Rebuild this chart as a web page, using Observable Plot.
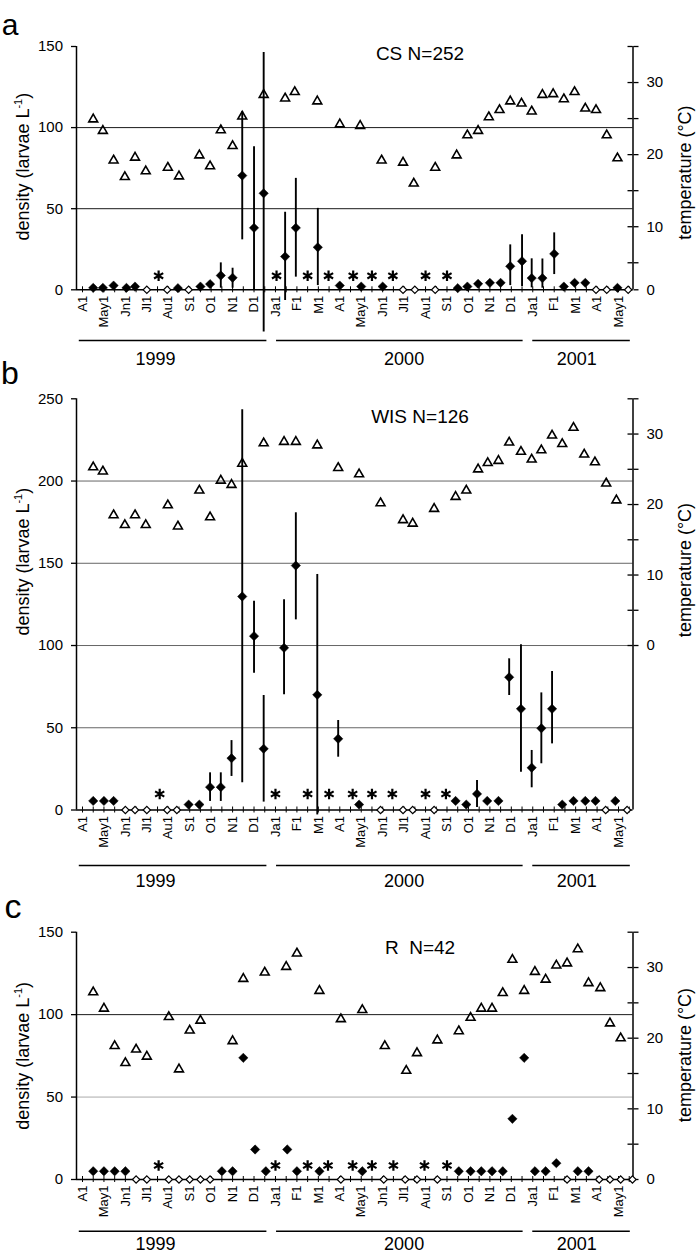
<!DOCTYPE html>
<html><head><meta charset="utf-8">
<script src="https://cdn.jsdelivr.net/npm/d3@7"></script>
<script src="https://cdn.jsdelivr.net/npm/@observablehq/plot@0.6"></script>
<style>
html,body{margin:0;padding:0;background:#fff;}
#chart{position:relative;width:697px;height:1253px;overflow:hidden;background:#fff;}
#chart svg{position:absolute;left:0;overflow:visible;}
</style></head><body><div id="chart"></div>
<script>
// x positions are in half-month steps from 1 April 1999 (0) to 1 May 2001 (50)
const xTickLabels = ["A1","May1","Jn1","Jl1","Au1","S1","O1","N1","D1","Ja1","F1","M1","A1","May1","Jn1","Jl1","Au1","S1","O1","N1","D1","Ja1","F1","M1","A1","May1"];
const yearLabels = ["1999","2000","2001"];
const yearStart = [-0.3, 18.1, 42.0];
const yearEnd = [17.2, 41.1, 51.1];
const yearMid = [6.8, 30.0, 46.1];

// Panel a: CS N=252
const csX = [1,1.9,2.9,4.1,4.9,6,7.9,8.9,9.9,11,11.9,12.9,14,14.9,16,16.9,18.9,19.9,21.95,24,26,28,29.9,31,32.9,35,35.9,36.9,38,39,39.9,41,41.9,42.9,44,44.9,45.9,46.9,47.9,48.9,49.9,50.9];
const csDensity = [1.2,1.2,2.6,1.2,2,0,0,1,0,2,3.5,8.8,7.4,70.4,38.2,59.5,20.5,38.2,26.2,2.6,2,2,0,0,0,1,2,3.7,4.3,4.3,14.5,17.6,7.2,7.2,22.2,2,4.3,4.3,0,0,1.2,0];
const csBarX = [12.9,14,14.9,16,16.9,18.9,19.9,21.95,39.9,41,41.9,42.9,44];
const csBarLow = [1,1,30.8,0,-26,-6.6,7.8,2.6,2.6,2,1.2,1,9.4];
const csBarHigh = [16.6,13.3,109.8,88.2,146.3,47.8,68.7,50.2,27.7,34,19.1,19,35.1];
const csTempX = [1.0,1.9,2.9,3.95,4.9,5.9,7.96,9.0,10.9,11.9,12.9,14.0,14.9,16.9,18.9,19.8,21.9,24.0,25.9,27.9,29.9,30.9,32.9,34.9,35.9,36.9,37.9,38.9,39.9,40.95,41.9,42.9,43.9,44.9,45.9,46.9,47.9,48.9,49.9];
const csTemp = [24.9,23.3,19.2,16.9,19.6,17.7,18.2,17.0,19.9,18.4,23.4,21.2,25.3,28.3,27.8,28.7,27.4,24.2,24.0,19.2,18.9,16.0,18.2,19.9,22.7,23.3,25.2,26.2,27.4,27.1,26.0,28.3,28.4,27.7,28.7,26.4,26.2,22.7,19.5];
const csNoSample = [7.1,18.1,21.0,22.95,25.25,27.0,28.95,32.0,34.0];

// Panel b: WIS N=126
const wisX = [1,2,2.9,4,4.9,6,7.9,8.8,9.9,10.9,11.9,12.9,13.9,14.9,16,16.9,18.8,19.9,21.9,23.85,25.8,27.8,29.9,30.8,32.8,34.8,35.8,36.8,37.75,38.8,39.8,40.9,41.9,42.8,43.8,44.75,45.8,46.9,47.85,48.8,49.7,50.8];
const wisDensity = [5.5,5.5,5.5,0,0,0,0,0,3.3,3.3,13.9,13.9,31.5,129.8,105.7,37.2,98.6,148.6,70,43.3,3.3,0,0,0,0,5.5,3.3,9.8,5.5,5.5,80.7,61.5,25.7,49.7,61.5,3.3,5.5,5.5,5.5,0,5.5,0];
const wisBarX = [11.9,12.9,13.9,14.9,16,16.9,18.8,19.9,21.9,23.85,36.8,39.8,40.9,41.9,42.8,43.8];
const wisBarLow = [5.2,5.2,20.4,16.5,83.2,4.8,70,115.6,-3,32.1,1.5,69.6,23,13.5,28.1,40.2];
const wisBarHigh = [22.6,22.6,42.2,243.3,126.9,69.6,127.8,180.7,143.2,54.4,17.9,91.9,100.4,36.2,71.2,84.2];
const wisTempX = [1.0,1.9,2.9,3.95,4.9,5.9,7.96,8.9,10.9,11.9,12.9,13.9,14.9,16.9,18.8,19.9,21.9,23.85,25.8,27.8,29.9,30.8,32.8,34.8,35.8,36.9,37.8,38.8,39.8,40.9,41.9,42.8,43.8,44.75,45.8,46.8,47.8,48.85,49.8];
const wisTemp = [25.3,24.7,18.5,17.1,18.5,17.1,19.9,16.9,22.0,18.2,23.4,22.8,25.8,28.7,28.9,28.9,28.4,25.2,24.3,20.2,17.8,17.3,19.4,21.1,22.0,25.0,25.9,26.2,28.8,27.5,26.4,27.7,29.8,28.6,30.9,27.1,26.0,23.0,20.6];
const wisNoSample = [7.2,18.0,21.0,23.0,25.2,27.0,28.9,32.0,33.9];

// Panel c: R N=42
const rX = [1,2,3,4,5,6,8.05,9,10,11,11.9,13,14,15,16.1,17.1,19.1,20,22.1,24.1,26.1,28.1,30.1,31.2,33.1,35.1,36.2,37.2,38.2,39.2,40.1,41.2,42.2,43.2,44.2,45.2,46.2,47.2,48.2,49.2,50.2,51.3];
const rDensity = [5,5,5,5,0,0,0,0,0,0,0,5,5,73.8,18.2,5,18.2,5,5,0,5,0,0,0,0,5,5,5,5,5,36.8,73.8,5,5,9.9,0,5,5,0,0,0,0];
const rBarX = [];
const rBarLow = [];
const rBarHigh = [];
const rTempX = [1,2,3,4,5,6,8.05,9,10,11,14,15,17,19,20,22.1,24.1,26.1,28.2,30.2,31.2,33.1,35.1,36.2,37.2,38.2,39.2,40.1,41.2,42.2,43.2,44.2,45.2,46.2,47.2,48.3,49.2,50.2];
const rTemp = [26.5,24.2,18.9,16.5,18.4,17.4,23.0,15.6,21.1,22.5,19.6,28.4,29.3,30.1,32.0,26.7,22.7,24.0,18.9,15.4,17.9,19.7,21.0,22.9,24.2,24.2,26.4,31.1,26.7,29.4,28.3,30.3,30.6,32.6,27.8,27.1,22.1,20.0];
const rNoSample = [7.1,18.0,21.0,22.9,25.2,27.0,29.0,31.9,34.0];

const FONT = "'Liberation Sans', Arial, Helvetica, sans-serif";
const W = 697, ML = 76, MR = 64.5;
const X_DOMAIN = [-0.56, 51.35];

const panels = [
  {letter: "a", site: "CS N=252", top: 0, height: 372, mt: 46, mb: 82.7, yMax: 150, yTicks: [0,50,100,150],
   gridDark: [50,100], gridLight: [], lightColor: "#666",
   x: csX, density: csDensity, barX: csBarX, barLow: csBarLow, barHigh: csBarHigh,
   tempX: csTempX, temp: csTemp, noSample: csNoSample,
   toDensity: t => (t - 1.25) * 150 / 33.75,
   tempTicks: [1.25,5,10,15,20,25,30,35], tempTickLabels: ["0","","10","","20","","30",""],
   letterX: 10, letterY: 35, letterSize: 30, siteY: 60, leftTitleY: 166.7, rightTitleY: 172.5,
   starDy: -14, yearRuleDy: 50.7, yearTextDy: 69.6},
  {letter: "b", site: "WIS N=126", top: 372, height: 521, mt: 26.3, mb: 83.5, yMax: 250, yTicks: [0,50,100,150,200,250],
   gridDark: [], gridLight: [50,100,150,200], lightColor: "#666",
   x: wisX, density: wisDensity, barX: wisBarX, barLow: wisBarLow, barHigh: wisBarHigh,
   tempX: wisTempX, temp: wisTemp, noSample: wisNoSample,
   toDensity: t => 100 + t * 150 / 35,
   tempTicks: [0,5,10,15,20,25,30,35], tempTickLabels: ["0","","10","","20","","30",""],
   letterX: 10, letterY: 12, letterSize: 32, siteY: 51, leftTitleY: 189.7, rightTitleY: 198,
   starDy: -16, yearRuleDy: 55.5, yearTextDy: 71.4},
  {letter: "c", site: "R  N=42", top: 893, height: 360, mt: 38.7, mb: 74, yMax: 150, yTicks: [0,50,100,150],
   gridDark: [100], gridLight: [50], lightColor: "#aaa",
   x: rX, density: rDensity, barX: rBarX, barLow: rBarLow, barHigh: rBarHigh,
   tempX: rTempX, temp: rTemp, noSample: rNoSample,
   toDensity: t => t * 150 / 35,
   tempTicks: [0,5,10,15,20,25,30,35], tempTickLabels: ["0","","10","","20","","30",""],
   letterX: 13, letterY: 25, letterSize: 34, siteY: 61, leftTitleY: 162.8, rightTitleY: 162,
   starDy: -14, yearRuleDy: 51.7, yearTextDy: 64.3}
];

const years = yearLabels.map((label, i) => ({label, start: yearStart[i], end: yearEnd[i], mid: yearMid[i]}));
const root = document.getElementById("chart");

for (const p of panels) {
  const pts = p.x.map((x, i) => ({x, y: p.density[i]}));
  const filled = pts.filter(d => d.y > 0);
  const open = pts.filter(d => d.y === 0);
  const bars = p.barX.map((x, i) => ({x, lo: p.barLow[i], hi: p.barHigh[i]}));
  const temps = p.tempX.map((x, i) => ({x, y: p.toDensity(p.temp[i])}));
  const tTickD = p.tempTicks.map(p.toDensity);
  const tLabel = new Map(tTickD.map((d, i) => [d, p.tempTickLabels[i]]));
  const plotH = p.height - p.mt - p.mb;
  const plotW = W - ML - MR;

  const svg = Plot.plot({
    width: W, height: p.height,
    marginTop: p.mt, marginBottom: p.mb, marginLeft: ML, marginRight: MR,
    style: {fontFamily: FONT, fontSize: "15px", background: "transparent", overflow: "visible", color: "black"},
    x: {domain: X_DOMAIN, axis: null},
    y: {domain: [0, p.yMax], axis: null},
    marks: [
      Plot.ruleY(p.gridDark, {y: d => d, stroke: "#1a1a1a", strokeWidth: 1}),
      Plot.ruleY(p.gridLight, {y: d => d, stroke: p.lightColor, strokeWidth: 1}),
      Plot.ruleY([0], {y: d => d, stroke: "black", strokeWidth: 1.5}),
      Plot.ruleX([X_DOMAIN[0]], {x: d => d, stroke: "black", strokeWidth: 1.5}),
      Plot.ruleX([X_DOMAIN[1]], {x: d => d, stroke: "black", strokeWidth: 1.5}),
      // left axis
      Plot.axisY({ticks: p.yTicks, tickSize: 5, tickPadding: 8.5, fontSize: 15, label: null, strokeWidth: 1.3}),
      // right (temperature) axis
      Plot.axisY({anchor: "right", ticks: tTickD, tickFormat: d => tLabel.get(d) ?? "", tickSize: 5, tickPadding: 8.5, fontSize: 15, label: null, strokeWidth: 1.3}),
      Plot.tickY(tTickD, {y: d => d, insetLeft: plotW - 5, strokeWidth: 1.3}),
      // x axis ticks (half months) and month labels
      Plot.axisX({ticks: d3.range(0, 52), tickSize: 3, tickFormat: () => "", label: null}),
      Plot.tickX(d3.range(0, 52), {x: d => d, insetTop: plotH - 3}),
      Plot.axisX({ticks: d3.range(0, 52, 2), tickSize: 0, tickPadding: 6, tickRotate: -90,
                  tickFormat: d => xTickLabels[d / 2], fontSize: 13, label: null}),
      // error bars
      Plot.ruleX(bars, {x: "x", y1: "lo", y2: "hi", stroke: "black", strokeWidth: 1.9}),
      // temperature
      Plot.dot(temps, {x: "x", y: "y", symbol: "triangle", r: 3.3, fill: "none", stroke: "black", strokeWidth: 1.6}),
      // density
      Plot.dot(filled, {x: "x", y: "y", symbol: "diamond2", r: 4.2, fill: "black", stroke: "black", strokeWidth: 0.5}),
      Plot.dot(open, {x: "x", y: "y", symbol: "diamond2", r: 3.3, fill: "white", stroke: "black", strokeWidth: 1.2}),
      // no sample
      Plot.dot(p.noSample, {x: d => d, y: () => 0, dy: p.starDy, symbol: "asterisk", r: 5, stroke: "black", strokeWidth: 2.2}),
      // years
      Plot.ruleY(years, {y: () => 0, x1: "start", x2: "end", dy: p.yearRuleDy, stroke: "black", strokeWidth: 1.5}),
      Plot.text(years, {x: "mid", y: () => 0, text: "label", dy: p.yearTextDy, fontSize: 18})
    ]
  });

  svg.style.top = p.top + "px";
  const s = d3.select(svg);
  s.append("text").attr("x", p.letterX).attr("y", p.letterY)
    .attr("font-family", FONT).attr("font-size", p.letterSize).attr("fill", "black").text(p.letter);
  s.append("text").attr("x", 420).attr("y", p.siteY)
    .attr("font-family", FONT).attr("font-size", 19).attr("fill", "black")
    .style("white-space", "pre").text(p.site);
  const yt = s.append("text")
    .attr("transform", `translate(29,${p.leftTitleY}) rotate(-90)`)
    .attr("text-anchor", "middle").attr("font-family", FONT).attr("font-size", 18).attr("fill", "black");
  yt.append("tspan").text("density (larvae L");
  yt.append("tspan").attr("font-size", 11).attr("dy", -7).text("-1");
  yt.append("tspan").attr("dy", 7).text(")");
  s.append("text")
    .attr("transform", `translate(691,${p.rightTitleY}) rotate(-90)`)
    .attr("text-anchor", "middle").attr("font-family", FONT).attr("font-size", 18).attr("fill", "black")
    .text("temperature (°C)");
  root.appendChild(svg);
}
</script></body></html>
